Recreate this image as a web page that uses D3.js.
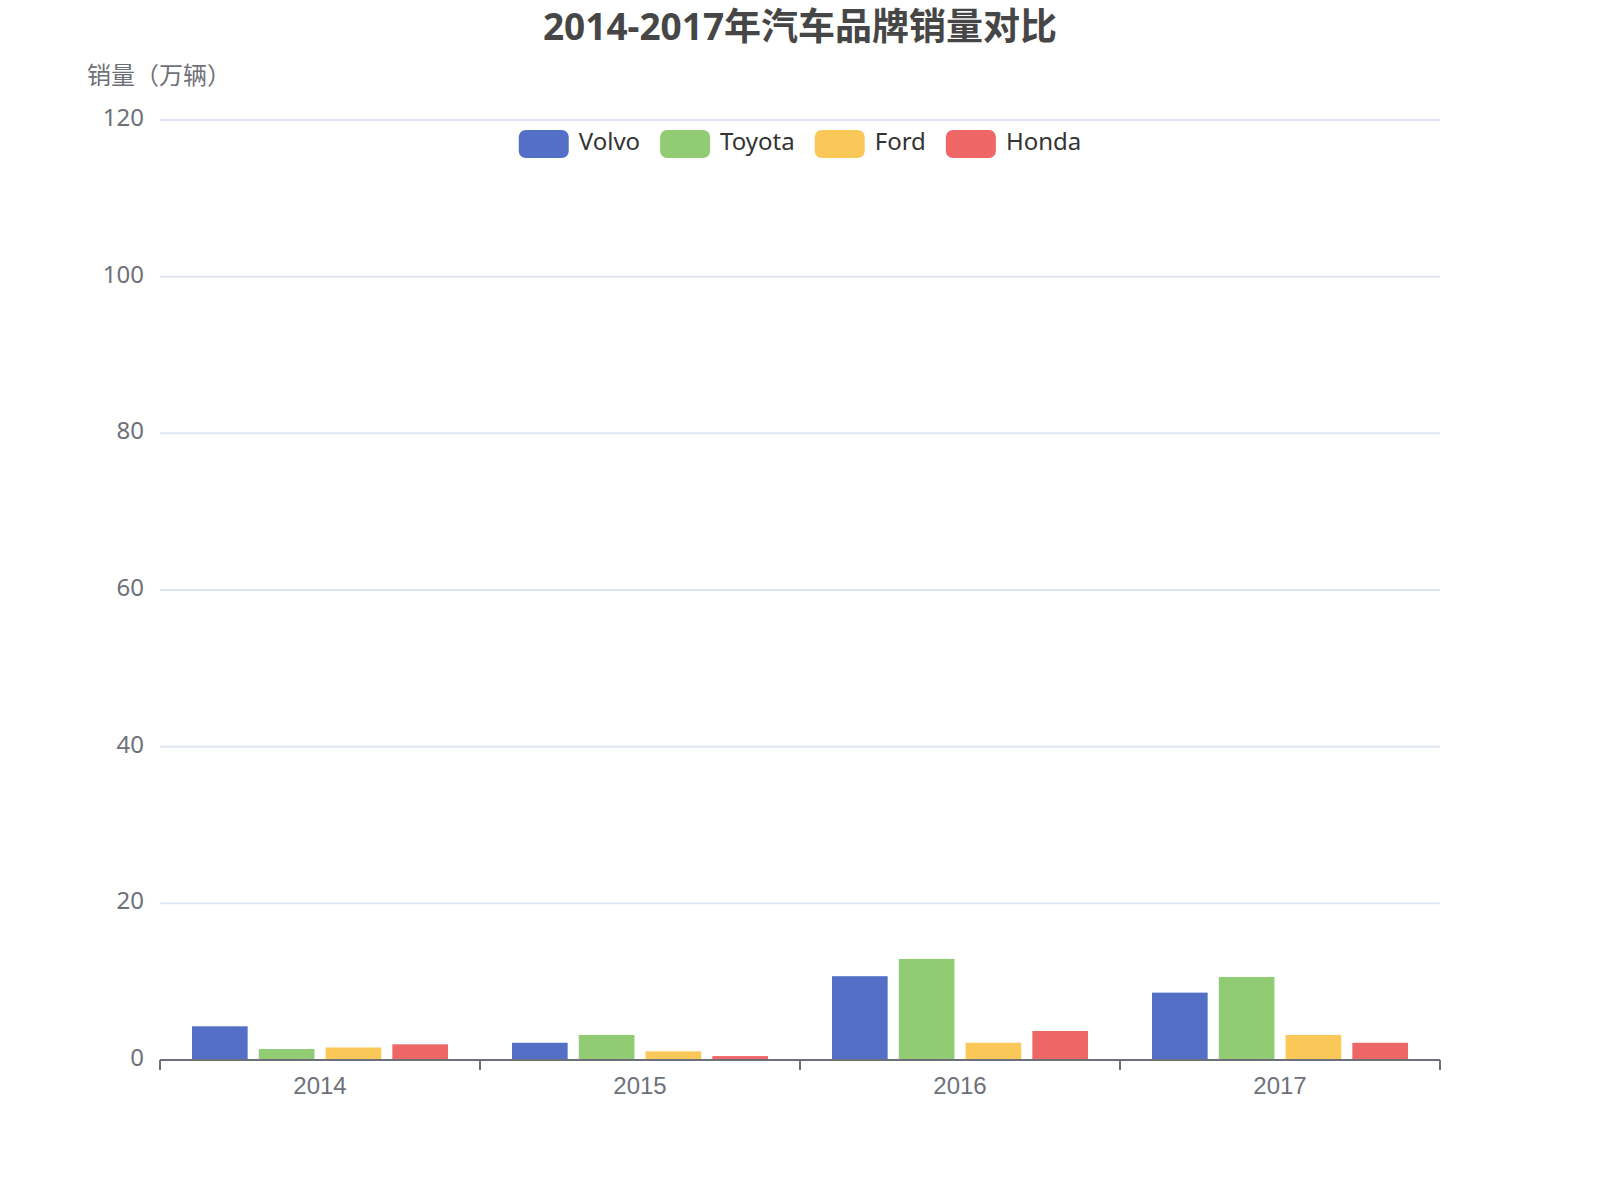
<!DOCTYPE html>
<html>
<head>
<meta charset="utf-8">
<script src="https://cdn.jsdelivr.net/npm/d3@7"></script>
<style>
  body { margin: 0; background: #fff; }
  svg { font-family: 'Noto Sans', 'Noto Sans CJK SC', sans-serif; }
</style>
</head>
<body>
<div id="chart"></div>
<script>
// Data
const years = ['2014', '2015', '2016', '2017'];
const brands = ['Volvo', 'Toyota', 'Ford', 'Honda'];
const volvo = [4.3, 2.2, 10.7, 8.6];
const toyota = [1.4, 3.2, 12.9, 10.6];
const ford = [1.6, 1.1, 2.2, 3.2];
const honda = [2.0, 0.5, 3.7, 2.2];
const yTicks = [0, 20, 40, 60, 80, 100, 120];

const seriesValues = [volvo, toyota, ford, honda];
const colors = ['#5470c6', '#91cc75', '#fac858', '#ee6666'];

const width = 1600;
const height = 1200;
const margin = {top: 120, right: 160, bottom: 140, left: 160};
const graphWidth = width - margin.left - margin.right;
const graphHeight = height - margin.top - margin.bottom;

let svg = d3.select('#chart')
  .append('svg')
  .attr('width', width)
  .attr('height', height);

let x = d3.scaleBand()
  .domain(years)
  .range([0, graphWidth])
  .padding(0);

// bars inside a category: 20% category gap, 20% bar gap (echarts defaults)
let xInner = d3.scaleBand()
  .domain(brands)
  .range([x.bandwidth() * 0.1, x.bandwidth() * 0.9])
  .paddingInner(1 / 6)
  .paddingOuter(0);

let y = d3.scaleLinear()
  .domain([0, 120])
  .range([graphHeight, 0]);

let chart = svg.append('g')
  .attr('transform', 'translate(' + margin.left + ',' + margin.top + ')');

// Grid lines
chart.append('g')
  .selectAll('line')
  .data(yTicks)
  .join('line')
  .attr('x1', 0)
  .attr('x2', graphWidth)
  .attr('y1', d => y(d))
  .attr('y2', d => y(d))
  .attr('stroke', '#E0E6F1')
  .attr('stroke-width', 2);

// Y labels
chart.append('g')
  .selectAll('text')
  .data(yTicks)
  .join('text')
  .attr('x', -16)
  .attr('y', d => y(d) + 6)
  .attr('text-anchor', 'end')
  .attr('fill', '#6E7079')
  .style('font-size', '24px')
  .text(d => d);

// Y axis name
svg.append('text')
  .attr('x', 87)
  .attr('y', 84)
  .attr('fill', '#6E7079')
  .style('font-size', '24px')
  .text('销量（万辆）');

// Bars
let groups = chart.append('g')
  .selectAll('g')
  .data(brands)
  .join('g')
  .attr('fill', (d, i) => colors[i]);

groups.selectAll('rect')
  .data((d, i) => seriesValues[i].map((v, j) => ({brand: d, year: years[j], value: v})))
  .join('rect')
  .attr('x', d => x(d.year) + xInner(d.brand))
  .attr('width', xInner.bandwidth())
  .attr('y', d => y(d.value))
  .attr('height', d => y(0) - y(d.value));

// X axis
let xAxis = d3.axisBottom(x)
  .tickSize(0)
  .tickPadding(0);

let xAxisG = chart.append('g')
  .attr('transform', 'translate(0,' + graphHeight + ')')
  .call(xAxis);
xAxisG.select('.domain').remove();
xAxisG.selectAll('text')
  .attr('y', 34)
  .attr('dy', 0)
  .attr('fill', '#6E7079')
  .style('font-size', '24px')
  .style('font-family', null);

xAxisG.append('line')
  .attr('x1', 0)
  .attr('x2', graphWidth)
  .attr('stroke', '#6E7079')
  .attr('stroke-width', 2);

// ticks on category boundaries
xAxisG.append('g')
  .selectAll('line')
  .data(years.concat(['end']))
  .join('line')
  .attr('x1', (d, i) => i * x.step())
  .attr('x2', (d, i) => i * x.step())
  .attr('y1', 0)
  .attr('y2', 10)
  .attr('stroke', '#6E7079')
  .attr('stroke-width', 2);

// Title
svg.append('text')
  .attr('x', 800)
  .attr('y', 40)
  .attr('text-anchor', 'middle')
  .attr('fill', '#464646')
  .style('font-size', '37px')
  .style('font-weight', 'bold')
  .text('2014-2017年汽车品牌销量对比');

// Legend, centered
let legend = svg.append('g');
let items = legend.selectAll('g')
  .data(brands)
  .join('g');
items.append('rect')
  .attr('width', 50)
  .attr('height', 28)
  .attr('y', 130)
  .attr('rx', 7)
  .attr('fill', (d, i) => colors[i]);
items.append('text')
  .attr('x', 60)
  .attr('y', 150)
  .attr('fill', '#333')
  .style('font-size', '24px')
  .text(d => d);

let offset = 0;
items.each(function() {
  let w = 60 + d3.select(this).select('text').node().getComputedTextLength();
  d3.select(this).attr('transform', 'translate(' + offset + ',0)');
  offset += w + 20;
});
let legendWidth = offset - 20;
legend.attr('transform', 'translate(' + (800 - legendWidth / 2) + ',0)');
</script>
</body>
</html>
